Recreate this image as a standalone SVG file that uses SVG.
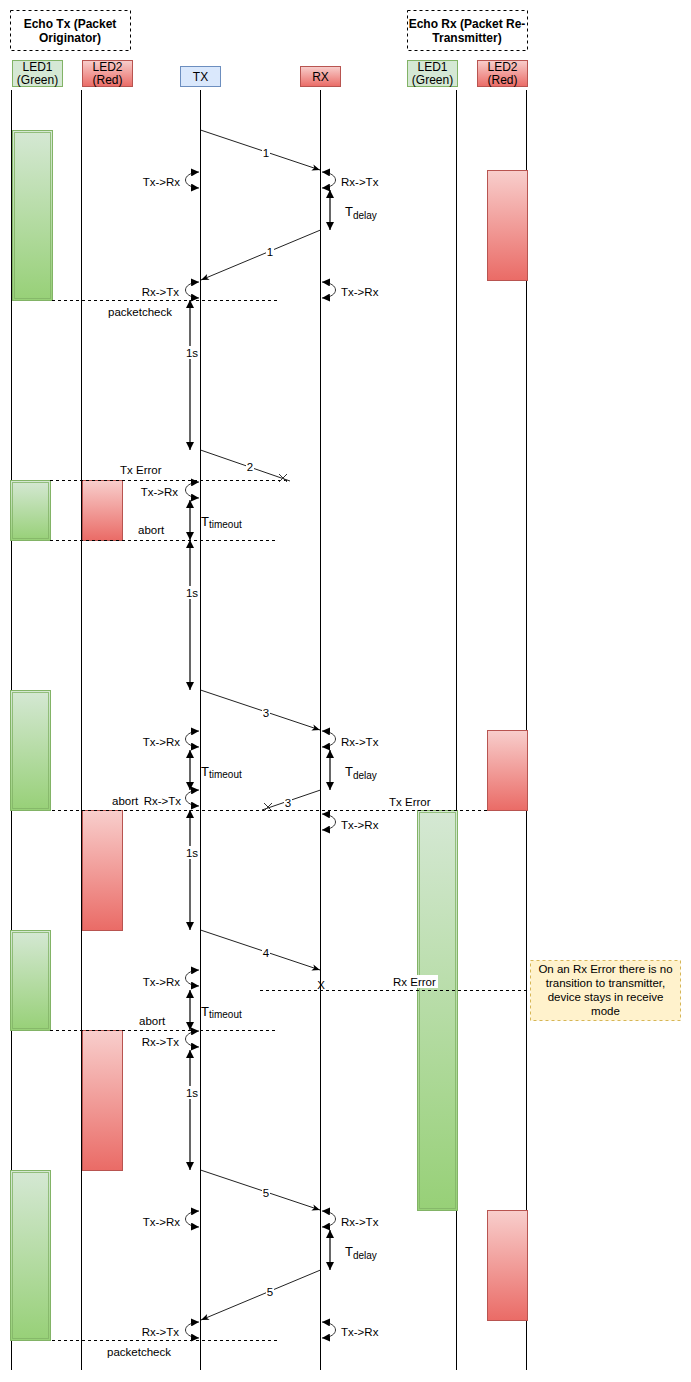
<svg xmlns="http://www.w3.org/2000/svg" width="691" height="1382" viewBox="0 0 691 1382">
<defs>
<style>
.ll{stroke:#000;stroke-width:1;fill:none}
.msg{stroke:#222;stroke-width:1;fill:none;marker-end:url(#arr)}
.dash{stroke:#000;stroke-width:1;stroke-dasharray:3 3;fill:none}
.dbl{stroke:#000;stroke-width:1.2;fill:none;marker-start:url(#blk);marker-end:url(#blk)}
.curl{stroke:#333;stroke-width:1;fill:none;marker-start:url(#cblk);marker-end:url(#cblk)}
.t{font-family:"Liberation Sans",Arial,sans-serif;font-size:11.5px;fill:#000}
.h{font-family:"Liberation Sans",Arial,sans-serif;font-size:12px;fill:#000;text-anchor:middle}
.hb{font-family:"Liberation Sans",Arial,sans-serif;font-size:12px;font-weight:bold;fill:#000;text-anchor:middle}
.gbar{fill:url(#gg);stroke:#82b366;stroke-width:1}
.gin{fill:none;stroke:#82b366;stroke-width:1;opacity:0.8}
.rbar{fill:url(#rg);stroke:#b85450;stroke-width:1}
.bg{fill:#fff}
.cross{stroke:#333;stroke-width:1}
</style>
<linearGradient id="gg" x1="0" y1="0" x2="0" y2="1"><stop offset="0" stop-color="#d5e8d4"/><stop offset="1" stop-color="#97d077"/></linearGradient>
<linearGradient id="rg" x1="0" y1="0" x2="0" y2="1"><stop offset="0" stop-color="#f8cecc"/><stop offset="1" stop-color="#ea6b66"/></linearGradient>
<marker id="arr" viewBox="0 0 10 10" refX="10" refY="5" markerWidth="9" markerHeight="8" markerUnits="userSpaceOnUse" orient="auto"><path d="M0,1 L10,5 L0,9 L2.5,5 z" fill="#000"/></marker>
<marker id="blk" viewBox="0 0 10 10" refX="10" refY="5" markerWidth="9" markerHeight="8" markerUnits="userSpaceOnUse" orient="auto-start-reverse"><path d="M0,0 L10,5 L0,10 z" fill="#000"/></marker>
<marker id="cblk" viewBox="0 0 10 10" refX="10" refY="5" markerWidth="8" markerHeight="8" markerUnits="userSpaceOnUse" orient="auto-start-reverse"><path d="M0,0 L10,5 L0,10 z" fill="#000"/></marker>
</defs>
<rect width="691" height="1382" fill="#fff"/>

<g id="echo-tx-title">
<rect x="10.5" y="10.5" width="120" height="40" fill="#fff" stroke="#000" stroke-dasharray="3 3"/>
<text class="hb" x="70" y="28">Echo Tx (Packet</text>
<text class="hb" x="70" y="42">Originator)</text>
</g>
<g id="echo-rx-title">
<rect x="407.5" y="10.5" width="120" height="40" fill="#fff" stroke="#000" stroke-dasharray="3 3"/>
<text class="hb" x="467" y="28">Echo Rx (Packet Re-</text>
<text class="hb" x="467" y="42">Transmitter)</text>
</g>

<g id="led1-tx">
<line class="ll" x1="11.5" y1="90" x2="11.5" y2="1370"/>
<rect x="12.5" y="60.5" width="50" height="26" fill="#d5e8d4" stroke="#82b366"/>
<text class="h" x="37.5" y="71">LED1</text>
<text class="h" x="37.5" y="84">(Green)</text>
<rect class="gbar" x="12.5" y="130.5" width="40" height="170"/><rect class="gin" x="14.5" y="132.5" width="36" height="166"/>
<rect class="gbar" x="10.5" y="480.5" width="40" height="60"/><rect class="gin" x="12.5" y="482.5" width="36" height="56"/>
<rect class="gbar" x="10.5" y="690.5" width="40" height="120"/><rect class="gin" x="12.5" y="692.5" width="36" height="116"/>
<rect class="gbar" x="10.5" y="930.5" width="40" height="100"/><rect class="gin" x="12.5" y="932.5" width="36" height="96"/>
<rect class="gbar" x="10.5" y="1170.5" width="40" height="170"/><rect class="gin" x="12.5" y="1172.5" width="36" height="166"/>
</g>

<g id="led2-tx">
<line class="ll" x1="81.5" y1="90" x2="81.5" y2="1370"/>
<rect x="82.5" y="60.5" width="50" height="26" fill="url(#rg)" stroke="#b85450"/>
<text class="h" x="107.5" y="71">LED2</text>
<text class="h" x="107.5" y="84">(Red)</text>
<rect class="rbar" x="82.5" y="480.5" width="40" height="60"/>
<rect class="rbar" x="82.5" y="810.5" width="40" height="120"/>
<rect class="rbar" x="82.5" y="1030.5" width="40" height="140"/>
</g>

<g id="tx">
<line class="ll" x1="200.5" y1="90" x2="200.5" y2="1370"/>
<rect x="180.5" y="66.5" width="40" height="20" fill="#dae8fc" stroke="#6c8ebf"/>
<text class="h" x="200.5" y="81">TX</text>
</g>

<g id="rx">
<line class="ll" x1="320.5" y1="90" x2="320.5" y2="1370"/>
<rect x="300.5" y="66.5" width="40" height="20" fill="url(#rg)" stroke="#b85450"/>
<text class="h" x="320.5" y="81">RX</text>
</g>

<g id="led1-rx">
<line class="ll" x1="456.5" y1="90" x2="456.5" y2="1370"/>
<rect x="407.5" y="60.5" width="50" height="26" fill="#d5e8d4" stroke="#82b366"/>
<text class="h" x="432.5" y="71">LED1</text>
<text class="h" x="432.5" y="84">(Green)</text>
<rect class="gbar" x="417.5" y="810.5" width="40" height="400"/><rect class="gin" x="419.5" y="812.5" width="36" height="396"/>
</g>

<g id="led2-rx">
<line class="ll" x1="526.5" y1="90" x2="526.5" y2="1370"/>
<rect x="477.5" y="60.5" width="50" height="26" fill="url(#rg)" stroke="#b85450"/>
<text class="h" x="502.5" y="71">LED2</text>
<text class="h" x="502.5" y="84">(Red)</text>
<rect class="rbar" x="487.5" y="170.5" width="40" height="110"/>
<rect class="rbar" x="487.5" y="730.5" width="40" height="80"/>
<rect class="rbar" x="487.5" y="1210.5" width="40" height="110"/>
</g>

<g id="note">
<rect x="530.5" y="960.5" width="150" height="60" fill="#fff2cc" stroke="#d6b656" stroke-dasharray="3 3"/>
<text class="t" x="605.5" y="972.5" text-anchor="middle" font-size="11px">On an Rx Error there is no</text>
<text class="t" x="605.5" y="987" text-anchor="middle" font-size="11px">transition to transmitter,</text>
<text class="t" x="605.5" y="1001" text-anchor="middle" font-size="11px">device stays in receive</text>
<text class="t" x="605.5" y="1015" text-anchor="middle" font-size="11px">mode</text>
</g>

<g id="connectors">
<line class="dash" x1="52" y1="300.5" x2="280" y2="300.5"/>
<line class="dash" x1="50" y1="480.5" x2="290" y2="480.5"/>
<line class="dash" x1="50" y1="540.5" x2="275" y2="540.5"/>
<line class="dash" x1="52" y1="810.5" x2="487" y2="810.5"/>
<line class="dash" x1="260" y1="990.5" x2="527" y2="990.5"/>
<line class="dash" x1="50" y1="1030.5" x2="277" y2="1030.5"/>
<line class="dash" x1="52" y1="1340.5" x2="280" y2="1340.5"/>

<line class="msg" x1="200.5" y1="130" x2="320" y2="170"/>
<rect class="bg" x="262" y="146" width="8" height="13"/><text class="t" x="266" y="157" text-anchor="middle">1</text>
<line class="msg" x1="320.5" y1="230" x2="201" y2="280"/>
<rect class="bg" x="266" y="245" width="8" height="13"/><text class="t" x="270" y="256" text-anchor="middle">1</text>

<line class="msg" x1="200.5" y1="450" x2="290" y2="481" style="marker-end:none"/>
<path class="cross" d="M279,474 L287,482 M279,482 L287,474"/>
<rect class="bg" x="246" y="461" width="8" height="13"/><text class="t" x="250" y="471" text-anchor="middle">2</text>

<line class="msg" x1="200.5" y1="690" x2="320" y2="730"/>
<rect class="bg" x="262" y="706" width="8" height="13"/><text class="t" x="266" y="717" text-anchor="middle">3</text>
<line class="msg" x1="320.5" y1="790" x2="262" y2="810" style="marker-end:none"/>
<path class="cross" d="M264,803 L272,811 M264,811 L272,803"/>
<rect class="bg" x="284" y="797" width="8" height="13"/><text class="t" x="288" y="807" text-anchor="middle">3</text>

<line class="msg" x1="200.5" y1="930" x2="320" y2="970"/>
<rect class="bg" x="262" y="946" width="8" height="13"/><text class="t" x="266" y="957" text-anchor="middle">4</text>
<text class="t" x="321" y="989" text-anchor="middle">X</text>

<line class="msg" x1="200.5" y1="1170" x2="320" y2="1210"/>
<rect class="bg" x="262" y="1186" width="8" height="13"/><text class="t" x="266" y="1197" text-anchor="middle">5</text>
<line class="msg" x1="320.5" y1="1270" x2="201" y2="1320"/>
<rect class="bg" x="266" y="1285" width="8" height="13"/><text class="t" x="270" y="1296" text-anchor="middle">5</text>

<path class="curl" d="M199,172 C181,173 181,187 199,188"/>
<path class="curl" d="M199,282 C181,283 181,297 199,298"/>
<path class="curl" d="M199,482 C181,483 181,497 199,498"/>
<path class="curl" d="M199,731 C181,732 181,746 199,747"/>
<path class="curl" d="M199,790 C181,791 181,805 199,806"/>
<path class="curl" d="M199,970 C181,971 181,985 199,986"/>
<path class="curl" d="M199,1031 C181,1032 181,1046 199,1047"/>
<path class="curl" d="M199,1211 C181,1212 181,1226 199,1227"/>
<path class="curl" d="M199,1322 C181,1323 181,1337 199,1338"/>
<path class="curl" d="M322,172 C340,173 340,187 322,188"/>
<path class="curl" d="M322,282 C340,283 340,297 322,298"/>
<path class="curl" d="M322,731 C340,732 340,746 322,747"/>
<path class="curl" d="M322,814 C340,815 340,829 322,830"/>
<path class="curl" d="M322,1211 C340,1212 340,1226 322,1227"/>
<path class="curl" d="M322,1322 C340,1323 340,1337 322,1338"/>

<text class="t" x="180" y="186" text-anchor="end">Tx-&gt;Rx</text>
<text class="t" x="179" y="296" text-anchor="end">Rx-&gt;Tx</text>
<text class="t" x="178" y="496" text-anchor="end">Tx-&gt;Rx</text>
<text class="t" x="180" y="746" text-anchor="end">Tx-&gt;Rx</text>
<text class="t" x="181" y="805" text-anchor="end">Rx-&gt;Tx</text>
<text class="t" x="112" y="805">abort</text>
<text class="t" x="180" y="986" text-anchor="end">Tx-&gt;Rx</text>
<text class="t" x="179" y="1046" text-anchor="end">Rx-&gt;Tx</text>
<text class="t" x="180" y="1226" text-anchor="end">Tx-&gt;Rx</text>
<text class="t" x="179" y="1336" text-anchor="end">Rx-&gt;Tx</text>
<text class="t" x="341" y="186">Rx-&gt;Tx</text>
<text class="t" x="341" y="296">Tx-&gt;Rx</text>
<text class="t" x="341" y="746">Rx-&gt;Tx</text>
<text class="t" x="341" y="829">Tx-&gt;Rx</text>
<text class="t" x="341" y="1226">Rx-&gt;Tx</text>
<text class="t" x="341" y="1336">Tx-&gt;Rx</text>

<text class="t" x="108" y="316">packetcheck</text>
<text class="t" x="120" y="474">Tx Error</text>
<text class="t" x="138" y="534">abort</text>
<text class="t" x="389" y="806">Tx Error</text>
<rect class="bg" x="391" y="975" width="47" height="13"/>
<text class="t" x="393" y="986">Rx Error</text>
<text class="t" x="139" y="1025">abort</text>
<text class="t" x="107" y="1356">packetcheck</text>

<line class="dbl" x1="190" y1="300" x2="190" y2="450"/>
<rect class="bg" x="184" y="346" width="15" height="13"/><text class="t" x="192" y="357" text-anchor="middle">1s</text>
<line class="dbl" x1="190" y1="540" x2="190" y2="690"/>
<rect class="bg" x="184" y="586" width="15" height="13"/><text class="t" x="192" y="597" text-anchor="middle">1s</text>
<line class="dbl" x1="190" y1="810" x2="190" y2="930"/>
<rect class="bg" x="184" y="846" width="15" height="13"/><text class="t" x="192" y="857" text-anchor="middle">1s</text>
<line class="dbl" x1="190" y1="1050" x2="190" y2="1170"/>
<rect class="bg" x="184" y="1086" width="15" height="13"/><text class="t" x="192" y="1097" text-anchor="middle">1s</text>

<line class="dbl" x1="190" y1="500" x2="190" y2="540"/>
<text class="t" x="201" y="525.5"><tspan font-size="13px">T</tspan><tspan font-size="10px" dy="2">timeout</tspan></text>
<line class="dbl" x1="190" y1="750" x2="190" y2="790"/>
<text class="t" x="201" y="776"><tspan font-size="13px">T</tspan><tspan font-size="10px" dy="2">timeout</tspan></text>
<line class="dbl" x1="190" y1="990" x2="190" y2="1030"/>
<text class="t" x="201" y="1015.5"><tspan font-size="13px">T</tspan><tspan font-size="10px" dy="2">timeout</tspan></text>

<line class="dbl" x1="330" y1="190" x2="330" y2="230"/>
<text class="t" x="345" y="216"><tspan font-size="13px">T</tspan><tspan font-size="10px" dy="3">delay</tspan></text>
<line class="dbl" x1="330" y1="750" x2="330" y2="790"/>
<text class="t" x="345" y="776"><tspan font-size="13px">T</tspan><tspan font-size="10px" dy="3">delay</tspan></text>
<line class="dbl" x1="330" y1="1230" x2="330" y2="1270"/>
<text class="t" x="345" y="1256"><tspan font-size="13px">T</tspan><tspan font-size="10px" dy="3">delay</tspan></text>
</g>
</svg>
